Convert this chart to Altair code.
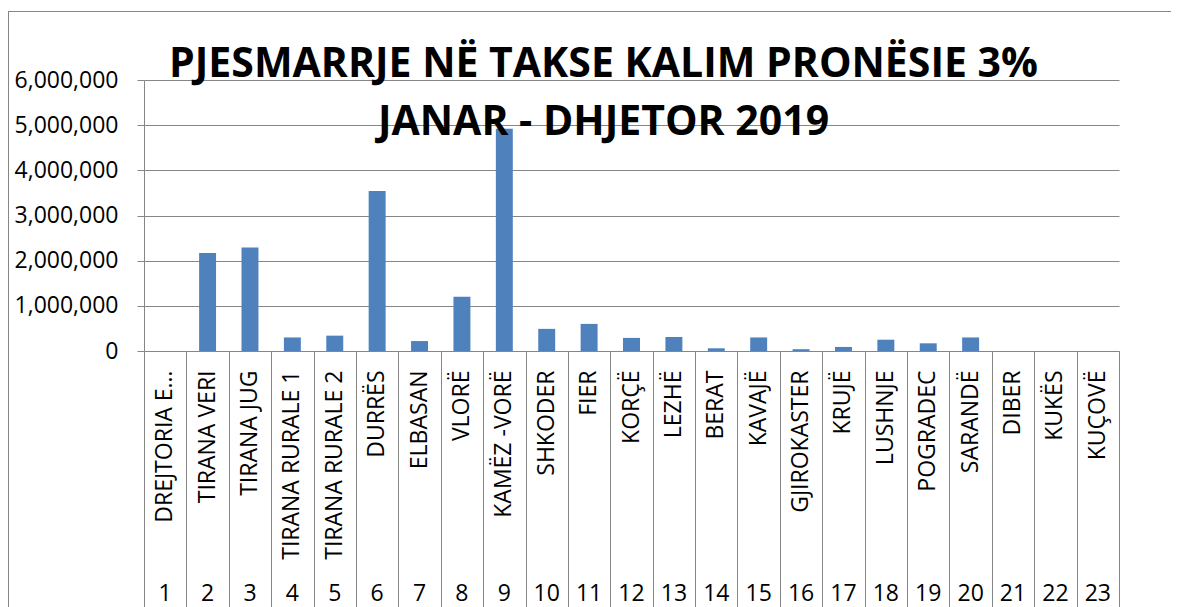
import json
import altair as alt
import pandas as pd

# ---- data ----
names = ["DREJTORIA E…", "TIRANA VERI", "TIRANA JUG", "TIRANA RURALE 1",
         "TIRANA RURALE 2", "DURRËS", "ELBASAN", "VLORË", "KAMËZ -VORË",
         "SHKODER", "FIER", "KORÇË", "LEZHË", "BERAT", "KAVAJË",
         "GJIROKASTER", "KRUJË", "LUSHNJE", "POGRADEC", "SARANDË",
         "DIBER", "KUKËS", "KUÇOVË"]
numbers = ["1", "2", "3", "4", "5", "6", "7", "8", "9", "10", "11", "12",
           "13", "14", "15", "16", "17", "18", "19", "20", "21", "22", "23"]
values = [0, 2170000, 2290000, 300000, 340000, 3540000, 220000, 1200000,
          4920000, 490000, 600000, 290000, 310000, 60000, 300000, 40000,
          90000, 250000, 170000, 300000, 0, 0, 0]
y_ticks = [0, 1000000, 2000000, 3000000, 4000000, 5000000, 6000000]
title_lines = ["PJESMARRJE NË TAKSE KALIM PRONËSIE 3%", "JANAR - DHJETOR 2019"]

df = pd.DataFrame({"name": names, "num": numbers, "value": values})

GRAY = "#868686"
FONT = "Open Sans"
LSIZE = 23

xscale = alt.Scale(paddingInner=0, paddingOuter=0)

# axis with district names
x_names = alt.X(
    "name:N", sort=names, scale=xscale, title=None,
    axis=alt.Axis(orient="bottom", labelAngle=-90, labelAlign="right",
                  labelBaseline="middle", ticks=False, tickSize=0,
                  domain=True, domainColor=GRAY, labelPadding=19,
                  labelFont=FONT, labelFontSize=LSIZE, labelColor="black",
                  labelLimit=400, labelOverlap=False, labelBound=False,
                  grid=False))

num_expr = "indexof(" + json.dumps(names, ensure_ascii=False) + ", datum.value) + 1"
x_nums = alt.X(
    "name:N", sort=names, scale=xscale, title=None,
    axis=alt.Axis(orient="bottom", labelExpr=num_expr, labelAngle=0,
                  labelAlign="center", labelBaseline="top", ticks=False,
                  tickSize=0, domain=False, labelPadding=231, labelFont=FONT,
                  labelFontSize=LSIZE, labelColor="black", labelOverlap=False,
                  labelBound=False, grid=False))

x_seps = alt.X(
    "name:N", sort=names, scale=xscale, title=None,
    axis=alt.Axis(orient="bottom", labels=False, domain=False, ticks=True,
                  tickBand="extent", tickSize=260, tickColor=GRAY,
                  tickWidth=1, grid=False))

bars = alt.Chart(df).mark_bar(color="#4F81BD", width={"band": 0.4}).encode(
    x=x_names,
    y=alt.Y("value:Q", title=None,
            scale=alt.Scale(domain=[0, 6000000], nice=False),
            axis=alt.Axis(values=y_ticks, format=",.0f", grid=True,
                          gridColor=GRAY, gridWidth=1, domainColor=GRAY,
                          tickColor=GRAY, tickSize=7, labelPadding=19,
                          labelFont=FONT, labelFontSize=LSIZE,
                          labelColor="black")),
)

nums = alt.Chart(df).mark_rule(opacity=0).encode(x=x_nums)
seps = alt.Chart(df).mark_rule(opacity=0).encode(x=x_seps)

# chart-area frame (left and top edges visible in the reference)
frame_left = alt.Chart(df).mark_rule(color=GRAY, strokeWidth=1).encode(
    x=alt.value(-135.5), y=alt.value(-68.5), y2=alt.value(530))
frame_top = alt.Chart(df).mark_rule(color=GRAY, strokeWidth=1).encode(
    x=alt.value(-135.5), x2=alt.value(1030), y=alt.value(-68.5))

chart = alt.layer(bars, nums, seps, frame_left, frame_top).resolve_axis(
    x="independent"
).properties(
    width=975, height=271,
    padding={"left": 136, "top": 72, "right": 52, "bottom": 256},
    autosize=alt.AutoSizeParams(type="none"),
    title=alt.TitleParams(
        text=title_lines, font="Liberation Sans Narrow, Open Sans",
        fontWeight="bold", fontSize=41, lineHeight=58, color="black",
        anchor="middle", baseline="alphabetic", dx=-28, dy=165, offset=0),
).configure_view(stroke=None)

chart.save("out.html", embed_options={"renderer": "svg", "actions": False})
